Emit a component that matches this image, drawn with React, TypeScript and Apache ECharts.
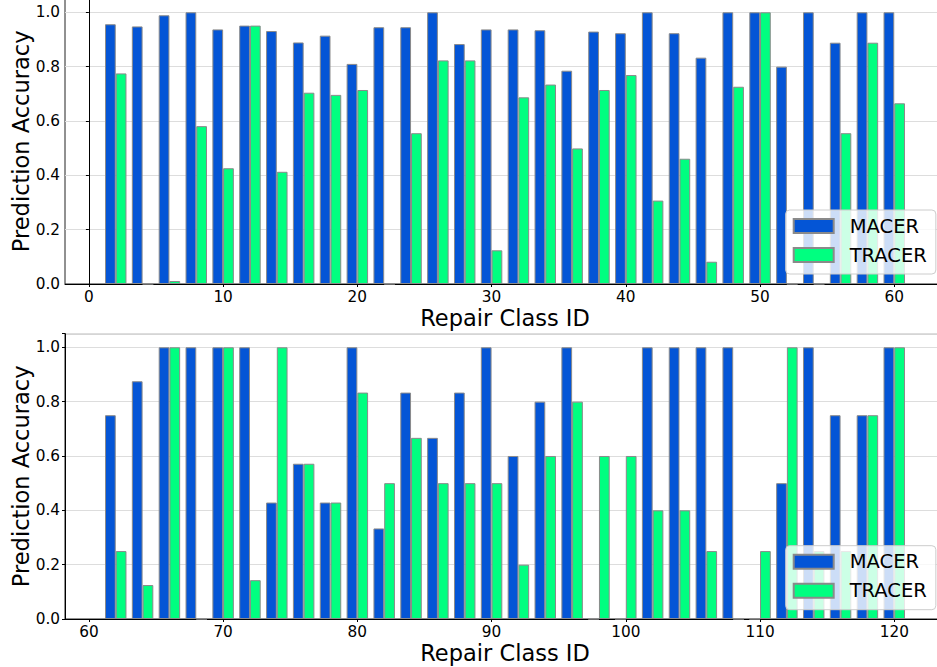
import React, { useEffect, useRef } from "react";
import * as echarts from "echarts";

const topIds = [2, 4, 6, 8, 10, 12, 14, 16, 18, 20, 22, 24, 26, 28, 30, 32, 34, 36, 38, 40, 42, 44, 46, 48, 50, 52, 54, 56, 58, 60];
const topMacer = [0.956, 0.948, 0.989, 1.0, 0.937, 0.951, 0.931, 0.889, 0.914, 0.81, 0.945, 0.945, 1.0, 0.883, 0.937, 0.937, 0.934, 0.785, 0.929, 0.923, 1.0, 0.923, 0.833, 1.0, 1.0, 0.8, 1.0, 0.888, 1.0, 1.0];
const topTracer = [0.775, 0, 0.011, 0.581, 0.426, 0.951, 0.413, 0.704, 0.696, 0.714, 0, 0.555, 0.823, 0.823, 0.124, 0.687, 0.734, 0.499, 0.714, 0.769, 0.307, 0.461, 0.082, 0.726, 1.0, 0, 0, 0.555, 0.888, 0.665];

const bottomIds = [62, 64, 66, 68, 70, 72, 74, 76, 78, 80, 82, 84, 86, 88, 90, 92, 94, 96, 98, 100, 102, 104, 106, 108, 110, 112, 114, 116, 118, 120];
const bottomMacer = [0.75, 0.875, 1.0, 1.0, 1.0, 1.0, 0.4286, 0.5714, 0.4286, 1.0, 0.3333, 0.8333, 0.6667, 0.8333, 1.0, 0.6, 0.8, 1.0, 0, 0, 1.0, 1.0, 1.0, 1.0, 0, 0.5, 1.0, 0.75, 0.75, 1.0];
const bottomTracer = [0.25, 0.125, 1.0, 0, 1.0, 0.1429, 1.0, 0.5714, 0.4286, 0.8333, 0.5, 0.6667, 0.5, 0.5, 0.5, 0.2, 0.6, 0.8, 0.6, 0.6, 0.4, 0.4, 0.25, 0, 0.25, 1.0, 0.25, 0.25, 0.75, 1.0];

const seriesNames = ["MACER", "TRACER"];
const yTicks = [0, 0.2, 0.4, 0.6, 0.8, 1.0];

const BLUE = "#0455d6";
const GREEN = "#00ff80";
const EDGE = "#8a8a8a";
const FONT = "DejaVu Sans";

export default function App() {
  const ref = useRef<HTMLDivElement>(null);

  useEffect(() => {
    if (!ref.current) return;
    const chart = echarts.init(ref.current, null, { renderer: "svg" });

    const pxPerUnit = 13.42;
    const barW = 0.8 * pxPerUnit;

    const makeX = (gridIndex: number, min: number, max: number) => ({
      type: "value",
      gridIndex,
      min,
      max,
      minInterval: 10,
      maxInterval: 10,
      name: "Repair Class ID",
      nameLocation: "middle",
      nameGap: 22,
      nameTextStyle: { fontFamily: FONT, fontSize: 22.5, color: "#000" },
      axisLine: { show: true, onZero: false, lineStyle: { color: "#000", width: 1 } },
      axisTick: { show: true, length: 3, lineStyle: { color: "#000" } },
      axisLabel: {
        show: true,
        showMinLabel: false,
        showMaxLabel: false,
        margin: 5,
        fontFamily: FONT,
        fontSize: 15.3,
        color: "#000",
      },
      splitLine: { show: false },
    });

    const makeY = (gridIndex: number) => ({
      type: "value",
      gridIndex,
      min: 0,
      max: 1.05,
      interval: 0.2,
      name: "Prediction Accuracy",
      nameLocation: "middle",
      nameGap: 33,
      nameMoveOverlap: false,
      nameTextStyle: { fontFamily: FONT, fontSize: 22.5, color: "#000" },
      axisLine: { show: true, lineStyle: { color: "#000", width: 1 } },
      axisTick: { show: true, length: 3, lineStyle: { color: "#000" } },
      axisLabel: {
        margin: 5,
        fontFamily: FONT,
        fontSize: 15.3,
        color: "#000",
        formatter: (v: number) =>
          yTicks.some((t) => Math.abs(t - v) < 1e-6) ? v.toFixed(1) : "",
      },
      splitLine: {
        show: true,
        lineStyle: { color: "#dddddd", width: 1 },
      },
    });

    const makeBar = (name: string, color: string, ids: number[], vals: number[], idx: number) => ({
      type: "bar",
      name,
      xAxisIndex: idx,
      yAxisIndex: idx,
      data: ids.map((x, i) => [x, vals[i]]),
      barWidth: barW,
      barGap: "0%",
      itemStyle: { color, borderColor: EDGE, borderWidth: 1 },
      emphasis: { disabled: true },
    });

    const makeLegend = (top: number) => ({
      data: seriesNames,
      orient: "vertical",
      left: 785.7,
      top,
      itemWidth: 40,
      itemHeight: 14,
      itemGap: 9,
      padding: [6, 9, 9, 7],
      backgroundColor: "rgba(255,255,255,0.8)",
      borderColor: "#cccccc",
      borderWidth: 1,
      borderRadius: 4,
      icon: "rect",
      textStyle: {
        fontFamily: FONT,
        fontSize: 19.5,
        color: "#000",
        lineHeight: 20,
        padding: [0, 0, 0, 11],
      },
    });

    const gridBase = {
      left: 65,
      width: 880,
      height: 285.3,
      show: true,
      borderColor: "#222",
      borderWidth: 1,
      backgroundColor: "transparent",
      containLabel: false,
      outerBoundsMode: "none",
    };

    chart.setOption({
      animation: false,
      backgroundColor: "#fff",
      grid: [
        { ...gridBase, top: -1.3 },
        { ...gridBase, top: 333.7 },
      ],
      xAxis: [makeX(0, -1.78, 63.78), makeX(1, 58.22, 123.78)],
      yAxis: [makeY(0), makeY(1)],
      legend: [makeLegend(210), makeLegend(545.7)],
      series: [
        makeBar(seriesNames[0], BLUE, topIds, topMacer, 0),
        makeBar(seriesNames[1], GREEN, topIds, topTracer, 0),
        makeBar(seriesNames[0], BLUE, bottomIds, bottomMacer, 1),
        makeBar(seriesNames[1], GREEN, bottomIds, bottomTracer, 1),
      ],
    });

    return () => chart.dispose();
  }, []);

  return (
    <div
      ref={ref}
      style={{ position: "fixed", left: 0, top: 0, width: 937, height: 667 }}
    />
  );
}
